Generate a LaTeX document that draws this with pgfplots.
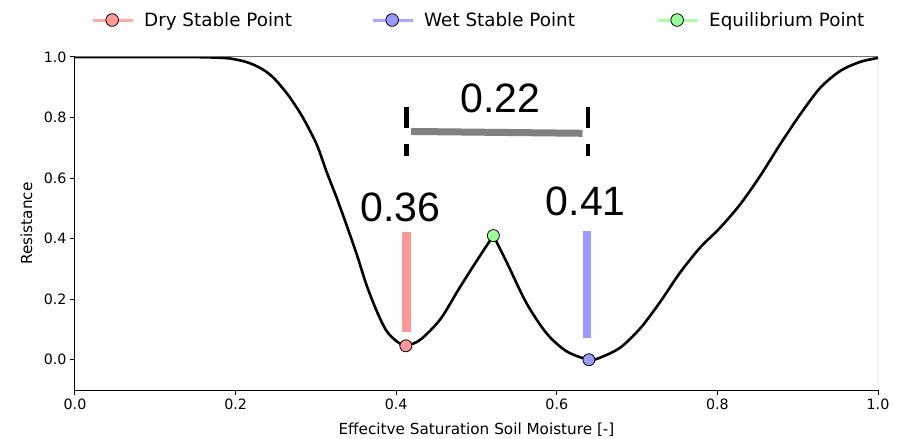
\documentclass[border=0pt]{standalone}
\usepackage{fontspec}
\setmainfont{DejaVu Sans}
\newfontfamily\annotfont{Liberation Sans}
\usepackage{pgfplots}
\pgfplotsset{compat=1.18}
\definecolor{dry}{HTML}{FF9999}
\definecolor{wet}{HTML}{9999FF}
\definecolor{eqc}{HTML}{99FF99}
\definecolor{spine}{HTML}{707070}
\begin{document}
\begin{tikzpicture}
\path[use as bounding box] (-75bp,-49bp) rectangle (827bp,390bp);
\begin{axis}[
  at={(0,0)}, anchor=south west,
  scale only axis, width=803bp, height=333bp,
  xmin=0, xmax=1, ymin=-0.1, ymax=1,
  axis lines*=left,
  axis line style={black, line width=1bp},
  xtick={0,0.2,0.4,0.6,0.8,1}, ytick={0,0.2,0.4,0.6,0.8,1},
  tick style={black, line width=1bp},
  tick align=outside, major tick length=5bp,
  ticklabel style={font=\fontsize{14.3}{17}\selectfont},
  /pgf/number format/fixed, /pgf/number format/fixed zerofill,
  /pgf/number format/precision=1, /pgf/number format/assume math mode=true,
  xlabel={Effecitve Saturation Soil Moisture [-]},
  ylabel={Resistance},
  label style={font=\fontsize{15.3}{18}\selectfont},
  xlabel style={at={(axis description cs:0.5,-0.120)}, anchor=center},
  ylabel style={at={(axis description cs:-0.0604,0.5)}, anchor=center},
  legend style={at={(axis description cs:0.0199,1.111)}, anchor=west,
    draw=none, fill=none, inner sep=0pt, legend columns=3,
    nodes={inner sep=0pt},
    font=\fontsize{18.4}{22}\selectfont,
    /tikz/every odd column/.append style={column sep=10bp},
    /tikz/every even column/.append style={column sep=0bp}},
  legend cell align=left,
]
% resistance curve (left part up to the peak)
\addplot[black, line width=2.6bp, smooth, forget plot] coordinates {
(0,1.0) (0.05,1.0) (0.10,1.0) (0.15,0.9995) (0.175,0.998) (0.193,0.995)
(0.21,0.986) (0.222,0.975) (0.235,0.957) (0.247,0.932) (0.258,0.899)
(0.268,0.865) (0.284,0.799) (0.301,0.711) (0.313,0.623) (0.326,0.534)
(0.338,0.446) (0.351,0.347) (0.363,0.247) (0.376,0.159) (0.388,0.095)
(0.401,0.060) (0.412,0.047) (0.430,0.066) (0.455,0.134) (0.479,0.238)
(0.504,0.342) (0.521,0.410)};
% resistance curve (right part from the peak)
\addplot[black, line width=2.6bp, smooth, forget plot] coordinates {
(0.521,0.410) (0.538,0.320) (0.562,0.188) (0.587,0.088) (0.612,0.028)
(0.640,0.0) (0.654,0.007) (0.679,0.040) (0.704,0.104) (0.729,0.192)
(0.753,0.286) (0.778,0.369) (0.803,0.435) (0.828,0.512) (0.853,0.606)
(0.878,0.711) (0.903,0.810) (0.928,0.898) (0.953,0.954) (0.978,0.984)
(1.0,0.997)};
% vertical bars
\addplot[dry, line width=8.3bp, forget plot] coordinates {(0.413,0.093) (0.413,0.421)};
\addplot[wet, line width=8.3bp, forget plot] coordinates {(0.638,0.072) (0.638,0.425)};
% distance bar
\addplot[gray, line width=7bp, forget plot] coordinates {(0.4185,0.754) (0.632,0.748)};
\addplot[black, line width=4.6bp, dash pattern=on 20.6bp off 16.7bp, forget plot] coordinates {(0.413,0.835) (0.413,0.673)};
\addplot[black, line width=4.6bp, dash pattern=on 20.6bp off 16.7bp, forget plot] coordinates {(0.639,0.835) (0.639,0.673)};
% points
\addplot[only marks, mark=*, mark size=6bp, mark options={fill=dry, draw=black, line width=0.8bp},
  legend image code/.code={\draw[dry, line width=3bp, opacity=0.85] (0bp,0bp) -- (40bp,0bp);
  \draw[black, fill=dry, line width=0.8bp] (19.5bp,0bp) circle (6.3bp);}]
  coordinates {(0.412,0.046)};
\addlegendentry{\makebox[227bp][l]{Dry Stable Point}}
\addplot[only marks, mark=*, mark size=6bp, mark options={fill=wet, draw=black, line width=0.8bp},
  legend image code/.code={\draw[wet, line width=3bp, opacity=0.85] (0bp,0bp) -- (40bp,0bp);
  \draw[black, fill=wet, line width=0.8bp] (19.5bp,0bp) circle (6.3bp);}]
  coordinates {(0.640,0.0)};
\addlegendentry{\makebox[232bp][l]{Wet Stable Point}}
\addplot[only marks, mark=*, mark size=6bp, mark options={fill=eqc, draw=black, line width=0.8bp},
  legend image code/.code={\draw[eqc, line width=3bp, opacity=0.85] (0bp,0bp) -- (40bp,0bp);
  \draw[black, fill=eqc, line width=0.8bp] (19.5bp,0bp) circle (6.3bp);}]
  coordinates {(0.521,0.410)};
\addlegendentry{Equilibrium Point}
% annotations
\node[font=\annotfont\fontsize{41.2}{48}\selectfont, anchor=center, inner sep=0pt] at (axis cs:0.405,0.502) {0.36};
\node[font=\annotfont\fontsize{41.2}{48}\selectfont, anchor=center, inner sep=0pt] at (axis cs:0.636,0.5215) {0.41};
\node[font=\annotfont\fontsize{41.2}{48}\selectfont, anchor=center, inner sep=0pt] at (axis cs:0.530,0.8626) {0.22};
% top and right spines
\draw[spine, line width=1bp] (rel axis cs:0,1) -- (rel axis cs:1,1) -- (rel axis cs:1,0);
\end{axis}
\end{tikzpicture}
\end{document}
